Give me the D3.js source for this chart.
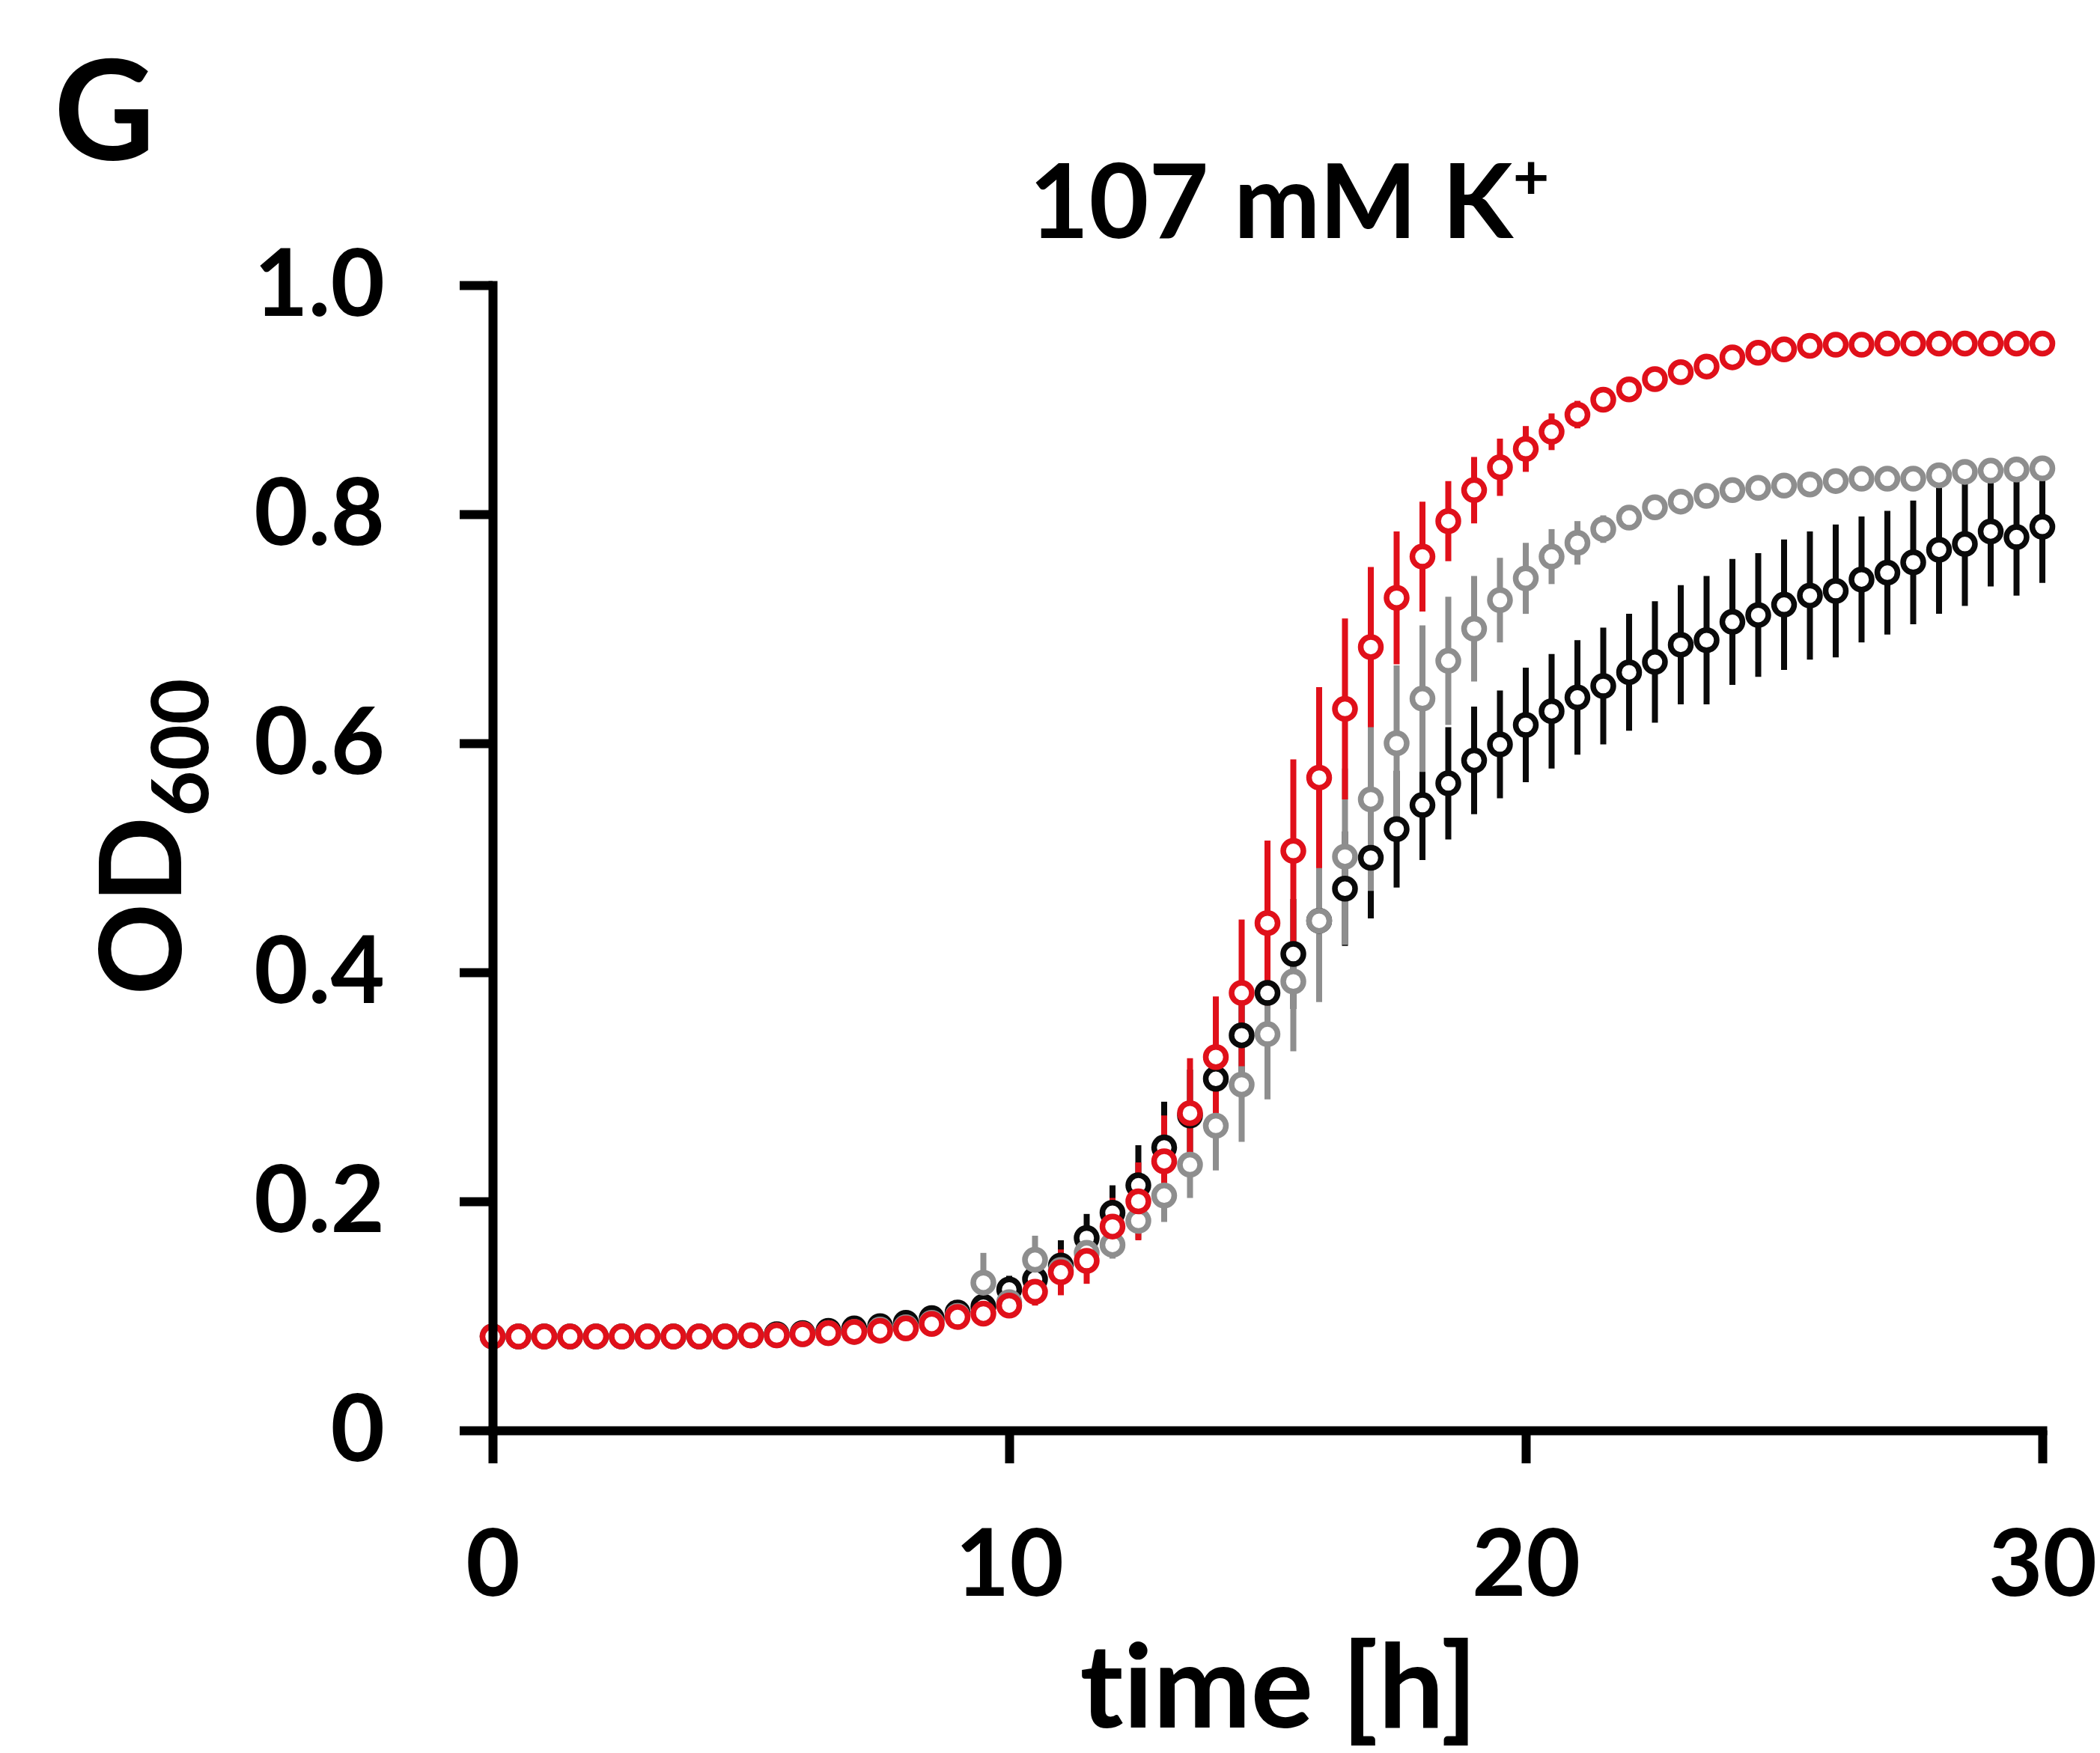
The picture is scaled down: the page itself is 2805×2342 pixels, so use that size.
<!DOCTYPE html>
<html>
<head>
<meta charset="utf-8">
<script src="https://cdn.jsdelivr.net/npm/d3@7"></script>
<style>
  html, body { margin: 0; padding: 0; background: #ffffff; }
  svg { display: block; }
  text { font-family: Lato, "Open Sans", "DejaVu Sans", sans-serif; font-weight: 700; fill: #000;
         font-variant-ligatures: none; font-feature-settings: "liga" 0, "clig" 0; }
</style>
</head>
<body>
<svg id="chart" width="2805" height="2342"></svg>
<script>
// ---------------- data ----------------
const times = [0,0.5,1,1.5,2,2.5,3,3.5,4,4.5,5,5.5,6,6.5,7,7.5,8,8.5,9,9.5,
  10,10.5,11,11.5,12,12.5,13,13.5,14,14.5,15,15.5,16,16.5,17,17.5,18,18.5,19,19.5,
  20,20.5,21,21.5,22,22.5,23,23.5,24,24.5,25,25.5,26,26.5,27,27.5,28,28.5,29,29.5,30];

const redValues = [0.082,0.082,0.082,0.082,0.082,0.082,0.082,0.082,0.082,0.082,
  0.083,0.083,0.084,0.085,0.086,0.087,0.089,0.093,0.099,0.102,
  0.109,0.121,0.138,0.148,0.178,0.200,0.235,0.277,0.326,0.382,
  0.443,0.506,0.570,0.630,0.684,0.727,0.763,0.794,0.821,0.841,
  0.857,0.872,0.887,0.900,0.909,0.918,0.924,0.929,0.937,0.941,
  0.944,0.947,0.948,0.948,0.949,0.949,0.949,0.949,0.949,0.949,
  0.949];
const redErrors = [0.003,0.003,0.003,0.003,0.003,0.003,0.003,0.003,0.003,0.003,
  0.003,0.003,0.003,0.003,0.003,0.003,0.003,0.003,0.005,0.006,
  0.008,0.012,0.020,0.020,0.025,0.034,0.040,0.048,0.053,0.064,
  0.072,0.080,0.079,0.079,0.070,0.058,0.048,0.035,0.029,0.025,
  0.020,0.016,0.012,0.009,0.007,0.006,0.005,0.005,0.004,0.004,
  0.004,0.004,0.004,0.004,0.004,0.004,0.004,0.004,0.004,0.004,
  0.004];

const grayValues = [0.082,0.082,0.082,0.082,0.082,0.082,0.082,0.082,0.082,0.082,
  0.083,0.083,0.084,0.085,0.086,0.088,0.090,0.094,0.100,0.129,
  0.112,0.149,0.140,0.155,0.162,0.183,0.205,0.232,0.266,0.302,
  0.346,0.392,0.445,0.501,0.551,0.600,0.639,0.672,0.700,0.725,
  0.744,0.763,0.775,0.787,0.797,0.806,0.811,0.816,0.821,0.823,
  0.825,0.826,0.829,0.831,0.831,0.831,0.834,0.837,0.838,0.839,
  0.840];
const grayErrors = [0.003,0.003,0.003,0.003,0.003,0.003,0.003,0.003,0.003,0.003,
  0.003,0.003,0.003,0.003,0.003,0.003,0.003,0.003,0.003,0.026,
  0.008,0.021,0.010,0.012,0.012,0.016,0.023,0.029,0.039,0.050,
  0.057,0.061,0.071,0.077,0.080,0.068,0.064,0.056,0.046,0.037,
  0.031,0.024,0.019,0.012,0.008,0.006,0.005,0.004,0.004,0.004,
  0.004,0.004,0.004,0.004,0.004,0.004,0.004,0.004,0.004,0.004,
  0.004];

const blackValues = [0.082,0.082,0.082,0.082,0.082,0.082,0.082,0.082,0.082,0.082,
  0.083,0.084,0.085,0.087,0.089,0.091,0.094,0.098,0.103,0.108,
  0.123,0.132,0.144,0.168,0.190,0.214,0.247,0.275,0.307,0.345,
  0.382,0.416,0.445,0.473,0.500,0.525,0.546,0.565,0.585,0.599,
  0.616,0.628,0.640,0.650,0.662,0.671,0.686,0.690,0.706,0.712,
  0.721,0.729,0.733,0.743,0.749,0.758,0.769,0.774,0.785,0.780,
  0.789];
const blackErrors = [0.003,0.003,0.003,0.003,0.003,0.003,0.003,0.003,0.003,0.003,
  0.003,0.003,0.003,0.003,0.003,0.004,0.005,0.006,0.008,0.010,
  0.012,0.015,0.022,0.021,0.024,0.035,0.040,0.040,0.042,0.045,
  0.045,0.048,0.050,0.050,0.053,0.051,0.048,0.049,0.047,0.047,
  0.050,0.050,0.050,0.051,0.051,0.053,0.052,0.056,0.055,0.054,
  0.057,0.056,0.058,0.055,0.054,0.054,0.056,0.054,0.048,0.051,
  0.049];

const yTickValues = [0, 0.2, 0.4, 0.6, 0.8, 1.0];
const yTickLabels = ["0", "0.2", "0.4", "0.6", "0.8", "1.0"];
const xTickValues = [0, 10, 20, 30];
const xTickLabels = ["0", "10", "20", "30"];

const panelLetter = "G";
const titleMain = "107 mM K";
const titleSup = "+";
const xAxisTitle = "time [h]";
const yAxisTitleMain = "OD";
const yAxisTitleSub = "600";

// series table built from the arrays (drawing order: black, gray, red)
const seriesList = [
  { name: "black", color: "#0a0a0a", values: blackValues, errors: blackErrors },
  { name: "gray",  color: "#8e8e8e", values: grayValues,  errors: grayErrors },
  { name: "red",   color: "#e0101a", values: redValues,   errors: redErrors }
];

// ---------------- layout ----------------
const svg = d3.select("#chart");
const x = d3.scaleLinear().domain([0, 30]).range([658, 2728]);
const y = d3.scaleLinear().domain([0, 1]).range([1911, 381]);

const AXIS_W = 12;
const TICK = 44;

// panel letter
svg.append("text")
  .attr("x", 72).attr("y", 214)
  .attr("font-size", 186)
  .text(panelLetter);

// title
const title = svg.append("text")
  .attr("x", 1722).attr("y", 318)
  .attr("text-anchor", "middle")
  .attr("font-size", 138);
title.append("tspan").text(titleMain);
title.append("tspan").attr("font-size", 84).attr("dy", -52).text(titleSup);

// error bars (all series, below markers)
const barsG = svg.append("g");
seriesList.forEach(s => {
  barsG.append("g")
    .selectAll("line")
    .data(times.map((t, i) => ({ t, v: s.values[i], e: s.errors[i] })))
    .join("line")
    .attr("x1", d => x(d.t)).attr("x2", d => x(d.t))
    .attr("y1", d => y(d.v + d.e)).attr("y2", d => y(d.v - d.e))
    .attr("stroke", s.color)
    .attr("stroke-width", 8);
});

// markers
const markG = svg.append("g");
seriesList.forEach(s => {
  markG.append("g")
    .selectAll("circle")
    .data(times.map((t, i) => ({ t, v: s.values[i] })))
    .join("circle")
    .attr("cx", d => x(d.t)).attr("cy", d => y(d.v))
    .attr("r", 13.5)
    .attr("fill", "#ffffff")
    .attr("stroke", s.color)
    .attr("stroke-width", 7.5);
});

// axes
const yAxis = d3.axisLeft(y)
  .tickValues(yTickValues)
  .tickFormat((d, i) => yTickLabels[i])
  .tickSize(TICK).tickSizeOuter(0).tickPadding(100);
const gy = svg.append("g").attr("transform", "translate(658,0)").call(yAxis);

const xAxis = d3.axisBottom(x)
  .tickValues(xTickValues)
  .tickFormat((d, i) => xTickLabels[i])
  .tickSize(TICK).tickSizeOuter(0).tickPadding(88);
const gx = svg.append("g").attr("transform", "translate(0,1911)").call(xAxis);

[gy, gx].forEach(g => {
  g.select(".domain").attr("stroke", "#000").attr("stroke-width", AXIS_W).attr("stroke-linecap", "square");
  g.selectAll(".tick line").attr("stroke", "#000").attr("stroke-width", AXIS_W);
  g.selectAll(".tick text")
    .attr("font-family", "Lato, 'Open Sans', sans-serif")
    .attr("font-weight", 700)
    .attr("font-size", 125)
    .attr("fill", "#000");
});

// axis titles
svg.append("text")
  .attr("x", 1708).attr("y", 2308)
  .attr("text-anchor", "middle")
  .attr("font-size", 156)
  .text(xAxisTitle);

const yt = svg.append("text")
  .attr("transform", "translate(242,1118) rotate(-90)")
  .attr("text-anchor", "middle")
  .attr("font-size", 152);
yt.append("tspan").text(yAxisTitleMain);
yt.append("tspan").attr("font-size", 106).attr("dy", 36).text(yAxisTitleSub);
</script>
</body>
</html>
